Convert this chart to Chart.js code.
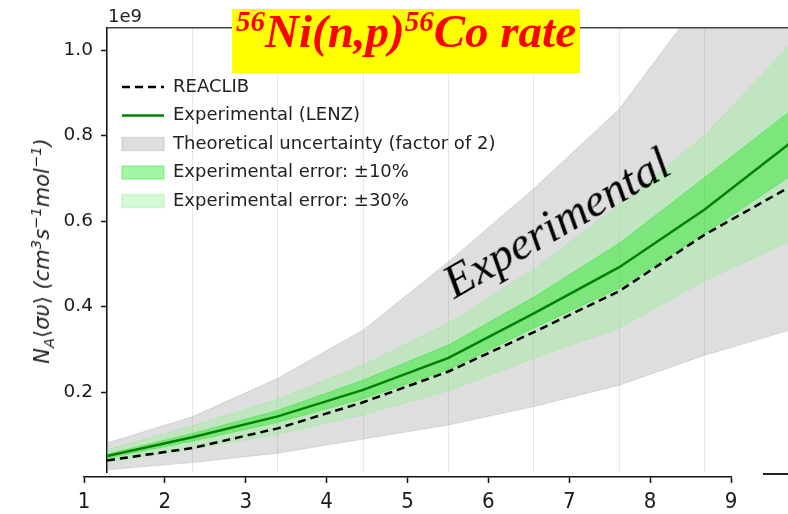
<!DOCTYPE html>
<html>
<head>
<meta charset="utf-8">
<script src="https://cdn.jsdelivr.net/npm/chart.js@4.4.1/dist/chart.umd.min.js"></script>
<style>
  html, body { margin: 0; padding: 0; width: 788px; height: 514px; overflow: hidden; background: #fff; }
  #wrap { position: relative; width: 788px; height: 514px; overflow: hidden; }
  #main { position: absolute; left: 0; top: 0; }
  #axis { position: absolute; left: 64px; top: 440px; }
  .txt { position: absolute; white-space: nowrap; }
  #scale { left: 108px; top: 5px; font: 18px 'DejaVu Sans'; color: #222; }
  #ytitle { left: 42px; top: 251px; font: italic 21px 'DejaVu Sans'; color: #222;
            transform: translate(-50%, -50%) rotate(-90deg); }
  #ytitle sub, #ytitle sup { font-size: 0.7em; line-height: 0; }
  #ytitle .up { font-style: normal; }
  #title { left: 232px; top: 9px; width: 348px; height: 64px; background: #ffff00; color: #ff0000;
           font: italic bold 47px 'Liberation Serif'; line-height: 44px; text-align: center; }
  #title .sup { font-size: 29px; position: relative; top: -16px; }
  #note { left: 556px; top: 222px; font: italic 47px 'Liberation Serif'; color: #000;
          transform: translate(-50%, -50%) rotate(-30deg); }
  #stub { left: 763px; top: 473px; width: 25px; height: 1.5px; background: #222; }
</style>
</head>
<body>
<div id="wrap">
  <canvas id="main" width="790" height="514"></canvas>
  <canvas id="axis" width="687" height="74"></canvas>
  <div id="scale" class="txt">1e9</div>
  <div id="ytitle" class="txt">N<sub>A</sub><span class="up">⟨</span>συ<span class="up">⟩</span> (cm<sup>3</sup>s<sup>−1</sup>mol<sup>−1</sup>)</div>
  <div id="title" class="txt"><span class="sup">56</span>Ni(n,p)<span class="sup">56</span>Co rate</div>
  <div id="note" class="txt">Experimental</div>
  <div id="stub" class="txt"></div>
</div>
<script>
// positions along the plot (one per vertical grid line), values in units of 1e9
const gridX = [0, 1, 2, 3, 4, 5, 6, 7, 8];
const reaclib = [0.040, 0.069, 0.115, 0.176, 0.248, 0.340, 0.436, 0.568, 0.680];
const lenz = [0.050, 0.094, 0.143, 0.205, 0.280, 0.384, 0.492, 0.627, 0.782];
const err10High = [0.055, 0.103, 0.157, 0.228, 0.310, 0.422, 0.548, 0.702, 0.857];
const err10Low = [0.045, 0.085, 0.129, 0.184, 0.252, 0.350, 0.443, 0.570, 0.705];
const err30High = [0.065, 0.121, 0.183, 0.263, 0.361, 0.487, 0.638, 0.800, 1.012];
const err30Low = [0.035, 0.067, 0.101, 0.147, 0.203, 0.279, 0.350, 0.460, 0.553];
const theoHigh = [0.081, 0.142, 0.232, 0.345, 0.505, 0.676, 0.862, 1.130, 1.360];
const theoLow = [0.018, 0.035, 0.057, 0.090, 0.123, 0.166, 0.216, 0.286, 0.345];

const yTicks = [0.2, 0.4, 0.6, 0.8, 1.0];
const bottomTicks = [1, 2, 3, 4, 5, 6, 7, 8, 9];

const legendOrder = ['REACLIB', 'Experimental (LENZ)', 'Theoretical uncertainty (factor of 2)',
  'Experimental error: ±10%', 'Experimental error: ±30%'];

Chart.defaults.font.family = 'DejaVu Sans';
Chart.defaults.color = '#222';

function pts(arr) {
  return gridX.map((x, i) => ({ x: x, y: arr[i] }));
}

function band(label, arr, fillColor, edgeColor, order, fill) {
  return {
    label: label, data: pts(arr), fill: fill ? '+1' : false,
    backgroundColor: fillColor, borderColor: edgeColor, borderWidth: 1,
    pointRadius: 0, tension: 0, order: order
  };
}

const grayFill = 'rgba(128,128,128,0.26)';
const grayEdge = 'rgba(128,128,128,0.22)';
const g30Fill = 'rgba(144,238,144,0.38)';
const g30Edge = 'rgba(144,238,144,0.4)';
const g10Fill = 'rgba(0,230,0,0.36)';
const g10Edge = 'rgba(0,230,0,0.3)';

// move the legend inside the axes, upper left
const legendSpot = {
  id: 'legendSpot',
  afterLayout(chart) {
    if (chart.legend) {
      chart.legend.left = 111.5;
      chart.legend.top = 67.5;
    }
  }
};

new Chart(document.getElementById('main'), {
  type: 'line',
  data: {
    datasets: [
      band('Theoretical uncertainty (factor of 2)', theoHigh, grayFill, grayEdge, 6, true),
      band('', theoLow, grayFill, grayEdge, 6, false),
      band('Experimental error: ±30%', err30High, g30Fill, g30Edge, 5, true),
      band('', err30Low, g30Fill, g30Edge, 5, false),
      band('Experimental error: ±10%', err10High, g10Fill, g10Edge, 4, true),
      band('', err10Low, g10Fill, g10Edge, 4, false),
      {
        label: 'REACLIB', data: pts(reaclib), borderColor: '#000', backgroundColor: '#000',
        borderWidth: 2.5, borderDash: [8, 5], pointRadius: 0, fill: false, order: 2
      },
      {
        label: 'Experimental (LENZ)', data: pts(lenz), borderColor: '#008000', backgroundColor: '#008000',
        borderWidth: 2.5, pointRadius: 0, fill: false, order: 1
      }
    ]
  },
  options: {
    responsive: false,
    animation: false,
    layout: { padding: { left: 0, right: 0, top: 28, bottom: 42 } },
    plugins: {
      tooltip: { enabled: false },
      legend: {
        position: 'chartArea',
        align: 'start',
        labels: {
          usePointStyle: true,
          pointStyleWidth: 42,
          boxHeight: 13,
          padding: 10.5,
          color: '#222',
          font: { size: 18 },
          generateLabels(chart) {
            const items = Chart.defaults.plugins.legend.labels.generateLabels(chart);
            items.forEach(it => {
              const ds = chart.data.datasets[it.datasetIndex];
              it.fillStyle = ds.backgroundColor;
              it.strokeStyle = ds.borderColor;
              it.lineWidth = ds.fill ? 1.5 : ds.borderWidth;
              it.lineDash = ds.borderDash || [];
              it.lineCap = 'butt';
              it.pointStyle = ds.fill ? 'rect' : 'line';
            });
            return items;
          },
          filter: item => !!item.text,
          sort: (a, b) => legendOrder.indexOf(a.text) - legendOrder.indexOf(b.text)
        }
      }
    },
    scales: {
      x: {
        type: 'linear', min: 0, max: 8,
        ticks: { display: false, stepSize: 1 },
        grid: { color: '#e8e8e8', lineWidth: 1, drawTicks: false },
        border: { display: false },
        afterFit: s => { s.height = 0; }
      },
      x2: {
        type: 'linear', position: 'top', min: 0, max: 8,
        ticks: { display: false },
        grid: { display: false },
        border: { display: true, color: '#444', width: 1.5 },
        afterFit: s => { s.height = 0; }
      },
      y: {
        type: 'linear', min: 0.0129, max: 1.0515,
        afterBuildTicks: s => { s.ticks = yTicks.map(v => ({ value: v })); },
        ticks: { font: { size: 18.5 }, color: '#1a1a1a', padding: 8, callback: v => v.toFixed(1) },
        grid: { drawOnChartArea: false, tickLength: 6, tickColor: '#111', tickWidth: 1.5 },
        border: { color: '#111', width: 1.5 },
        afterFit: s => { s.width = 107; }
      }
    }
  },
  plugins: [legendSpot]
});

// detached lower axis, as in the picture
new Chart(document.getElementById('axis'), {
  type: 'line',
  data: { datasets: [] },
  options: {
    responsive: false,
    animation: false,
    layout: { padding: { left: 20, right: 20, top: 0, bottom: 0 } },
    plugins: { legend: { display: false }, tooltip: { enabled: false } },
    scales: {
      x: {
        type: 'linear', min: 1, max: 9,
        afterBuildTicks: s => { s.ticks = bottomTicks.map(v => ({ value: v })); },
        ticks: { font: { family: "'DejaVu Sans Condensed', 'DejaVu Sans'", size: 22 }, color: '#1a1a1a', padding: 6, maxRotation: 0 },
        grid: { drawOnChartArea: false, tickLength: 6, tickColor: '#111', tickWidth: 1.5 },
        border: { color: '#111', width: 1.5 },
        afterFit: s => { s.height = 37; }
      },
      y: { display: false }
    }
  }
});
</script>
</body>
</html>
